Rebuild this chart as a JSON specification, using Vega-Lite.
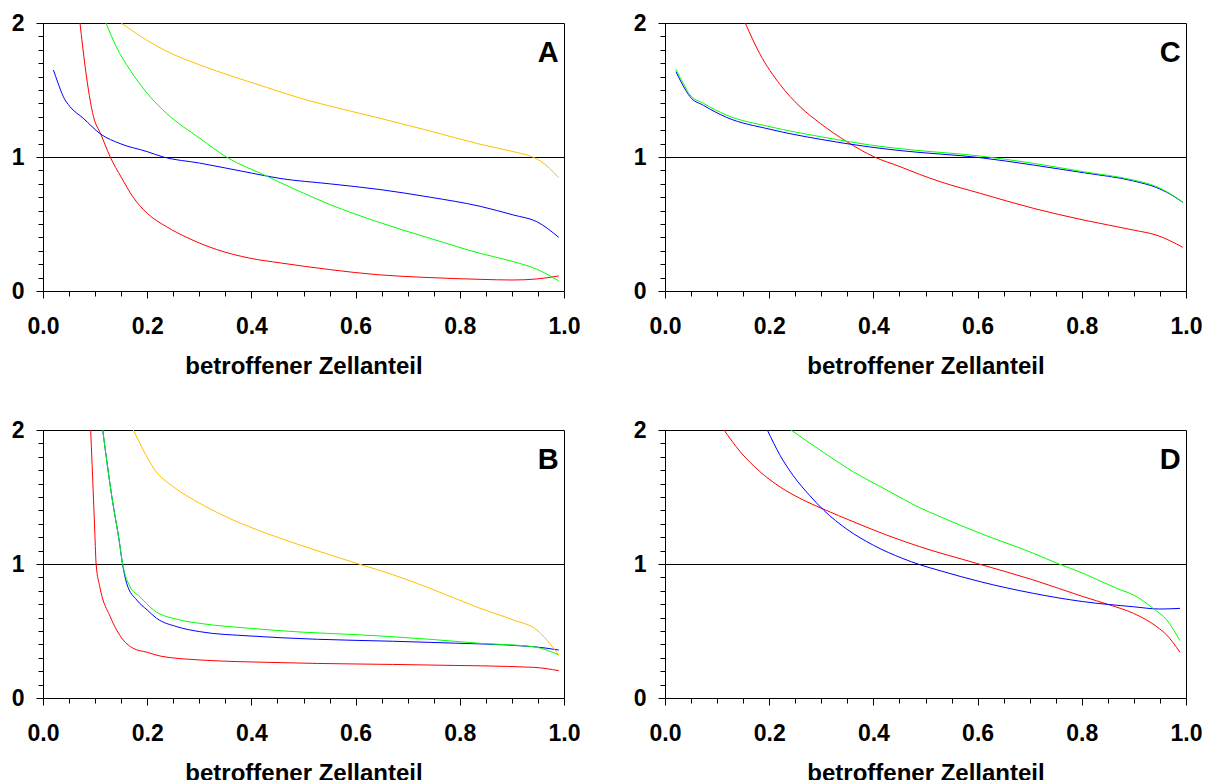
{
  "$schema": "https://vega.github.io/schema/vega-lite/v6.json",
  "background": "white",
  "padding": {"left": 10, "top": 11, "right": 5, "bottom": 5},
  "columns": 2,
  "spacing": {"row": 139, "column": 101},
  "bounds": "flush",
  "config": {
    "view": {"stroke": "black", "strokeWidth": 1},
    "axis": {
      "grid": false,
      "domainColor": "black",
      "domainWidth": 1,
      "tickColor": "black",
      "tickWidth": 1,
      "labelFont": "Liberation Sans",
      "labelFontWeight": "bold",
      "labelFontSize": 23,
      "labelColor": "black",
      "labelOverlap": false,
      "labelFlush": false,
      "titleFont": "Liberation Sans",
      "titleFontWeight": "bold",
      "titleFontSize": 24,
      "titleColor": "black"
    }
  },
  "datasets": {
    "curves": [
      {"p":"A","s":"rot","x":0.071,"y":2.0},{"p":"A","s":"rot","x":0.081,"y":1.67},{"p":"A","s":"rot","x":0.097,"y":1.30},{"p":"A","s":"rot","x":0.111,"y":1.17},{"p":"A","s":"rot","x":0.129,"y":1.0},{"p":"A","s":"rot","x":0.15,"y":0.85},{"p":"A","s":"rot","x":0.173,"y":0.70},{"p":"A","s":"rot","x":0.2,"y":0.58},{"p":"A","s":"rot","x":0.237,"y":0.48},{"p":"A","s":"rot","x":0.276,"y":0.40},{"p":"A","s":"rot","x":0.333,"y":0.31},{"p":"A","s":"rot","x":0.397,"y":0.245},{"p":"A","s":"rot","x":0.455,"y":0.21},{"p":"A","s":"rot","x":0.55,"y":0.16},{"p":"A","s":"rot","x":0.647,"y":0.12},{"p":"A","s":"rot","x":0.743,"y":0.10},{"p":"A","s":"rot","x":0.839,"y":0.087},{"p":"A","s":"rot","x":0.902,"y":0.082},{"p":"A","s":"rot","x":0.948,"y":0.09},{"p":"A","s":"rot","x":0.99,"y":0.112},
      {"p":"A","s":"blau","x":0.02,"y":1.65},{"p":"A","s":"blau","x":0.029,"y":1.55},{"p":"A","s":"blau","x":0.039,"y":1.45},{"p":"A","s":"blau","x":0.052,"y":1.375},{"p":"A","s":"blau","x":0.077,"y":1.29},{"p":"A","s":"blau","x":0.111,"y":1.17},{"p":"A","s":"blau","x":0.148,"y":1.10},{"p":"A","s":"blau","x":0.2,"y":1.04},{"p":"A","s":"blau","x":0.231,"y":1.0},{"p":"A","s":"blau","x":0.30,"y":0.955},{"p":"A","s":"blau","x":0.4,"y":0.88},{"p":"A","s":"blau","x":0.455,"y":0.84},{"p":"A","s":"blau","x":0.55,"y":0.80},{"p":"A","s":"blau","x":0.647,"y":0.757},{"p":"A","s":"blau","x":0.743,"y":0.70},{"p":"A","s":"blau","x":0.839,"y":0.632},{"p":"A","s":"blau","x":0.903,"y":0.567},{"p":"A","s":"blau","x":0.948,"y":0.517},{"p":"A","s":"blau","x":0.99,"y":0.40},
      {"p":"A","s":"grün","x":0.121,"y":2.0},{"p":"A","s":"grün","x":0.141,"y":1.82},{"p":"A","s":"grün","x":0.167,"y":1.65},{"p":"A","s":"grün","x":0.2,"y":1.475},{"p":"A","s":"grün","x":0.237,"y":1.326},{"p":"A","s":"grün","x":0.301,"y":1.139},{"p":"A","s":"grün","x":0.352,"y":1.0},{"p":"A","s":"grün","x":0.429,"y":0.858},{"p":"A","s":"grün","x":0.455,"y":0.81},{"p":"A","s":"grün","x":0.5,"y":0.73},{"p":"A","s":"grün","x":0.551,"y":0.645},{"p":"A","s":"grün","x":0.647,"y":0.51},{"p":"A","s":"grün","x":0.743,"y":0.393},{"p":"A","s":"grün","x":0.839,"y":0.281},{"p":"A","s":"grün","x":0.903,"y":0.219},{"p":"A","s":"grün","x":0.948,"y":0.162},{"p":"A","s":"grün","x":0.99,"y":0.075},
      {"p":"A","s":"gelb","x":0.15,"y":2.0},{"p":"A","s":"gelb","x":0.2,"y":1.87},{"p":"A","s":"gelb","x":0.237,"y":1.79},{"p":"A","s":"gelb","x":0.301,"y":1.687},{"p":"A","s":"gelb","x":0.365,"y":1.60},{"p":"A","s":"gelb","x":0.429,"y":1.52},{"p":"A","s":"gelb","x":0.493,"y":1.44},{"p":"A","s":"gelb","x":0.551,"y":1.38},{"p":"A","s":"gelb","x":0.647,"y":1.289},{"p":"A","s":"gelb","x":0.743,"y":1.194},{"p":"A","s":"gelb","x":0.839,"y":1.095},{"p":"A","s":"gelb","x":0.903,"y":1.04},{"p":"A","s":"gelb","x":0.941,"y":0.998},{"p":"A","s":"gelb","x":0.954,"y":0.972},{"p":"A","s":"gelb","x":0.99,"y":0.846},

      {"p":"C","s":"rot","x":0.154,"y":2.0},{"p":"C","s":"rot","x":0.182,"y":1.77},{"p":"C","s":"rot","x":0.221,"y":1.54},{"p":"C","s":"rot","x":0.259,"y":1.376},{"p":"C","s":"rot","x":0.298,"y":1.251},{"p":"C","s":"rot","x":0.349,"y":1.114},{"p":"C","s":"rot","x":0.402,"y":1.0},{"p":"C","s":"rot","x":0.451,"y":0.928},{"p":"C","s":"rot","x":0.489,"y":0.87},{"p":"C","s":"rot","x":0.528,"y":0.816},{"p":"C","s":"rot","x":0.605,"y":0.729},{"p":"C","s":"rot","x":0.707,"y":0.617},{"p":"C","s":"rot","x":0.803,"y":0.53},{"p":"C","s":"rot","x":0.899,"y":0.455},{"p":"C","s":"rot","x":0.944,"y":0.416},{"p":"C","s":"rot","x":0.994,"y":0.326},
      {"p":"C","s":"blau","x":0.021,"y":1.637},{"p":"C","s":"blau","x":0.035,"y":1.53},{"p":"C","s":"blau","x":0.048,"y":1.45},{"p":"C","s":"blau","x":0.074,"y":1.385},{"p":"C","s":"blau","x":0.118,"y":1.296},{"p":"C","s":"blau","x":0.2015,"y":1.207},{"p":"C","s":"blau","x":0.298,"y":1.132},{"p":"C","s":"blau","x":0.393,"y":1.075},{"p":"C","s":"blau","x":0.451,"y":1.048},{"p":"C","s":"blau","x":0.605,"y":0.995},{"p":"C","s":"blau","x":0.707,"y":0.94},{"p":"C","s":"blau","x":0.803,"y":0.883},{"p":"C","s":"blau","x":0.899,"y":0.821},{"p":"C","s":"blau","x":0.944,"y":0.771},{"p":"C","s":"blau","x":0.963,"y":0.737},{"p":"C","s":"blau","x":0.994,"y":0.662},
      {"p":"C","s":"grün","x":0.021,"y":1.654},{"p":"C","s":"grün","x":0.035,"y":1.55},{"p":"C","s":"grün","x":0.048,"y":1.463},{"p":"C","s":"grün","x":0.074,"y":1.40},{"p":"C","s":"grün","x":0.118,"y":1.313},{"p":"C","s":"grün","x":0.2015,"y":1.226},{"p":"C","s":"grün","x":0.298,"y":1.152},{"p":"C","s":"grün","x":0.393,"y":1.09},{"p":"C","s":"grün","x":0.451,"y":1.062},{"p":"C","s":"grün","x":0.605,"y":1.007},{"p":"C","s":"grün","x":0.707,"y":0.953},{"p":"C","s":"grün","x":0.803,"y":0.89},{"p":"C","s":"grün","x":0.899,"y":0.828},{"p":"C","s":"grün","x":0.944,"y":0.778},{"p":"C","s":"grün","x":0.963,"y":0.741},{"p":"C","s":"grün","x":0.994,"y":0.662},

      {"p":"B","s":"rot","x":0.0915,"y":2.0},{"p":"B","s":"rot","x":0.097,"y":1.478},{"p":"B","s":"rot","x":0.0995,"y":1.229},{"p":"B","s":"rot","x":0.102,"y":0.997},{"p":"B","s":"rot","x":0.109,"y":0.831},{"p":"B","s":"rot","x":0.129,"y":0.607},{"p":"B","s":"rot","x":0.154,"y":0.433},{"p":"B","s":"rot","x":0.173,"y":0.371},{"p":"B","s":"rot","x":0.2,"y":0.341},{"p":"B","s":"rot","x":0.225,"y":0.313},{"p":"B","s":"rot","x":0.301,"y":0.284},{"p":"B","s":"rot","x":0.455,"y":0.264},{"p":"B","s":"rot","x":0.743,"y":0.246},{"p":"B","s":"rot","x":0.941,"y":0.229},{"p":"B","s":"rot","x":0.99,"y":0.204},
      {"p":"B","s":"blau","x":0.1146,"y":2.0},{"p":"B","s":"blau","x":0.133,"y":1.48},{"p":"B","s":"blau","x":0.146,"y":1.18},{"p":"B","s":"blau","x":0.153,"y":0.99},{"p":"B","s":"blau","x":0.1606,"y":0.856},{"p":"B","s":"blau","x":0.18,"y":0.731},{"p":"B","s":"blau","x":0.2,"y":0.657},{"p":"B","s":"blau","x":0.218,"y":0.595},{"p":"B","s":"blau","x":0.257,"y":0.532},{"p":"B","s":"blau","x":0.301,"y":0.495},{"p":"B","s":"blau","x":0.397,"y":0.463},{"p":"B","s":"blau","x":0.455,"y":0.45},{"p":"B","s":"blau","x":0.743,"y":0.415},{"p":"B","s":"blau","x":0.941,"y":0.383},{"p":"B","s":"blau","x":0.99,"y":0.358},
      {"p":"B","s":"grün","x":0.1146,"y":2.0},{"p":"B","s":"grün","x":0.133,"y":1.48},{"p":"B","s":"grün","x":0.146,"y":1.18},{"p":"B","s":"grün","x":0.153,"y":1.0},{"p":"B","s":"grün","x":0.167,"y":0.831},{"p":"B","s":"grün","x":0.186,"y":0.756},{"p":"B","s":"grün","x":0.212,"y":0.657},{"p":"B","s":"grün","x":0.263,"y":0.582},{"p":"B","s":"grün","x":0.301,"y":0.557},{"p":"B","s":"grün","x":0.397,"y":0.52},{"p":"B","s":"grün","x":0.455,"y":0.502},{"p":"B","s":"grün","x":0.647,"y":0.463},{"p":"B","s":"grün","x":0.743,"y":0.438},{"p":"B","s":"grün","x":0.839,"y":0.408},{"p":"B","s":"grün","x":0.941,"y":0.383},{"p":"B","s":"grün","x":0.99,"y":0.321},
      {"p":"B","s":"gelb","x":0.1733,"y":2.0},{"p":"B","s":"gelb","x":0.1925,"y":1.851},{"p":"B","s":"gelb","x":0.215,"y":1.70},{"p":"B","s":"gelb","x":0.25,"y":1.577},{"p":"B","s":"gelb","x":0.301,"y":1.453},{"p":"B","s":"gelb","x":0.365,"y":1.328},{"p":"B","s":"gelb","x":0.429,"y":1.229},{"p":"B","s":"gelb","x":0.493,"y":1.142},{"p":"B","s":"gelb","x":0.551,"y":1.068},{"p":"B","s":"gelb","x":0.6085,"y":0.997},{"p":"B","s":"gelb","x":0.647,"y":0.952},{"p":"B","s":"gelb","x":0.743,"y":0.818},{"p":"B","s":"gelb","x":0.839,"y":0.669},{"p":"B","s":"gelb","x":0.903,"y":0.582},{"p":"B","s":"gelb","x":0.948,"y":0.507},{"p":"B","s":"gelb","x":0.967,"y":0.433},{"p":"B","s":"gelb","x":0.99,"y":0.321},

      {"p":"D","s":"rot","x":0.1132,"y":2.0},{"p":"D","s":"rot","x":0.144,"y":1.84},{"p":"D","s":"rot","x":0.182,"y":1.69},{"p":"D","s":"rot","x":0.221,"y":1.575},{"p":"D","s":"rot","x":0.259,"y":1.49},{"p":"D","s":"rot","x":0.305,"y":1.408},{"p":"D","s":"rot","x":0.361,"y":1.316},{"p":"D","s":"rot","x":0.4255,"y":1.216},{"p":"D","s":"rot","x":0.489,"y":1.129},{"p":"D","s":"rot","x":0.598,"y":1.005},{"p":"D","s":"rot","x":0.707,"y":0.881},{"p":"D","s":"rot","x":0.803,"y":0.756},{"p":"D","s":"rot","x":0.854,"y":0.694},{"p":"D","s":"rot","x":0.899,"y":0.632},{"p":"D","s":"rot","x":0.944,"y":0.532},{"p":"D","s":"rot","x":0.963,"y":0.47},{"p":"D","s":"rot","x":0.9885,"y":0.341},
      {"p":"D","s":"blau","x":0.1964,"y":2.0},{"p":"D","s":"blau","x":0.221,"y":1.81},{"p":"D","s":"blau","x":0.246,"y":1.66},{"p":"D","s":"blau","x":0.278,"y":1.51},{"p":"D","s":"blau","x":0.305,"y":1.40},{"p":"D","s":"blau","x":0.349,"y":1.26},{"p":"D","s":"blau","x":0.40,"y":1.14},{"p":"D","s":"blau","x":0.457,"y":1.04},{"p":"D","s":"blau","x":0.489,"y":0.995},{"p":"D","s":"blau","x":0.528,"y":0.95},{"p":"D","s":"blau","x":0.605,"y":0.868},{"p":"D","s":"blau","x":0.707,"y":0.781},{"p":"D","s":"blau","x":0.803,"y":0.719},{"p":"D","s":"blau","x":0.899,"y":0.681},{"p":"D","s":"blau","x":0.95,"y":0.664},{"p":"D","s":"blau","x":0.9885,"y":0.669},
      {"p":"D","s":"grün","x":0.2418,"y":2.0},{"p":"D","s":"grün","x":0.2975,"y":1.851},{"p":"D","s":"grün","x":0.361,"y":1.689},{"p":"D","s":"grün","x":0.4255,"y":1.552},{"p":"D","s":"grün","x":0.489,"y":1.42},{"p":"D","s":"grün","x":0.528,"y":1.353},{"p":"D","s":"grün","x":0.605,"y":1.229},{"p":"D","s":"grün","x":0.707,"y":1.08},{"p":"D","s":"grün","x":0.753,"y":1.005},{"p":"D","s":"grün","x":0.803,"y":0.93},{"p":"D","s":"grün","x":0.867,"y":0.818},{"p":"D","s":"grün","x":0.899,"y":0.769},{"p":"D","s":"grün","x":0.937,"y":0.669},{"p":"D","s":"grün","x":0.963,"y":0.582},{"p":"D","s":"grün","x":0.9885,"y":0.428}
    ]
  },
  "concat": [
    {
      "width": 521, "height": 268,
      "layer": [
        {"data": {"values": [{}]}, "mark": {"type": "rule", "color": "black", "strokeWidth": 1, "yOffset": 0.5}, "encoding": {"y": {"datum": 1, "type": "quantitative"}}},
        {"data": {"name": "curves"}, "transform": [{"filter": "datum.p === 'A'"}],
         "mark": {"type": "line", "clip": true, "strokeWidth": 1, "interpolate": "monotone"},
         "encoding": {
           "x": {"field": "x", "type": "quantitative", "scale": {"domain": [0, 1], "nice": false},
                 "axis": {"title": "betroffener Zellanteil", "tickCount": 40, "values": [0,0.05,0.1,0.15,0.2,0.25,0.3,0.35,0.4,0.45,0.5,0.55,0.6,0.65,0.7,0.75,0.8,0.85,0.9,0.95,1],
                          "labelExpr": "round(datum.value*20) % 4 === 0 ? format(datum.value, '.1f') : ''",
                          "tickSize": {"condition": {"test": "round(datum.value*20) % 4 === 0", "value": 7}, "value": 5},
                          "labelOverlap": false, "labelPadding": 17, "titlePadding": 16}},
           "y": {"field": "y", "type": "quantitative", "scale": {"domain": [0, 2], "nice": false},
                 "axis": {"title": null, "tickCount": 40, "values": [0,0.1,0.2,0.3,0.4,0.5,0.6,0.7,0.8,0.9,1,1.1,1.2,1.3,1.4,1.5,1.6,1.7,1.8,1.9,2],
                          "labelExpr": "datum.value % 1 === 0 ? format(datum.value, 'd') : ''",
                          "tickSize": {"condition": {"test": "datum.value % 1 === 0", "value": 7}, "value": 5},
                          "labelOverlap": false, "labelPadding": 12}},
           "color": {"field": "s", "type": "nominal", "legend": null, "scale": {"domain": ["rot","blau","grün","gelb"], "range": ["#FF0000","#0000FF","#00FF00","#FFC000"]}},
           "detail": {"field": "s"}
         }},
        {"data": {"values": [{"label": "A"}]}, "mark": {"type": "text", "font": "Liberation Sans", "fontWeight": "bold", "fontSize": 29, "align": "right", "baseline": "alphabetic", "color": "black"},
         "encoding": {"x": {"datum": 0.99, "type": "quantitative"}, "y": {"datum": 1.71, "type": "quantitative"}, "text": {"field": "label"}}}
      ]
    },
    {
      "width": 521, "height": 268,
      "layer": [
        {"data": {"values": [{}]}, "mark": {"type": "rule", "color": "black", "strokeWidth": 1, "yOffset": 0.5}, "encoding": {"y": {"datum": 1, "type": "quantitative"}}},
        {"data": {"name": "curves"}, "transform": [{"filter": "datum.p === 'C'"}],
         "mark": {"type": "line", "clip": true, "strokeWidth": 1, "interpolate": "monotone"},
         "encoding": {
           "x": {"field": "x", "type": "quantitative", "scale": {"domain": [0, 1], "nice": false},
                 "axis": {"title": "betroffener Zellanteil", "tickCount": 40, "values": [0,0.05,0.1,0.15,0.2,0.25,0.3,0.35,0.4,0.45,0.5,0.55,0.6,0.65,0.7,0.75,0.8,0.85,0.9,0.95,1],
                          "labelExpr": "round(datum.value*20) % 4 === 0 ? format(datum.value, '.1f') : ''",
                          "tickSize": {"condition": {"test": "round(datum.value*20) % 4 === 0", "value": 7}, "value": 5},
                          "labelOverlap": false, "labelPadding": 17, "titlePadding": 16}},
           "y": {"field": "y", "type": "quantitative", "scale": {"domain": [0, 2], "nice": false},
                 "axis": {"title": null, "tickCount": 40, "values": [0,0.1,0.2,0.3,0.4,0.5,0.6,0.7,0.8,0.9,1,1.1,1.2,1.3,1.4,1.5,1.6,1.7,1.8,1.9,2],
                          "labelExpr": "datum.value % 1 === 0 ? format(datum.value, 'd') : ''",
                          "tickSize": {"condition": {"test": "datum.value % 1 === 0", "value": 7}, "value": 5},
                          "labelOverlap": false, "labelPadding": 12}},
           "color": {"field": "s", "type": "nominal", "legend": null, "scale": {"domain": ["rot","blau","grün","gelb"], "range": ["#FF0000","#0000FF","#00FF00","#FFC000"]}},
           "detail": {"field": "s"}
         }},
        {"data": {"values": [{"label": "C"}]}, "mark": {"type": "text", "font": "Liberation Sans", "fontWeight": "bold", "fontSize": 29, "align": "right", "baseline": "alphabetic", "color": "black"},
         "encoding": {"x": {"datum": 0.99, "type": "quantitative"}, "y": {"datum": 1.71, "type": "quantitative"}, "text": {"field": "label"}}}
      ]
    },
    {
      "width": 521, "height": 268,
      "layer": [
        {"data": {"values": [{}]}, "mark": {"type": "rule", "color": "black", "strokeWidth": 1, "yOffset": 0.5}, "encoding": {"y": {"datum": 1, "type": "quantitative"}}},
        {"data": {"name": "curves"}, "transform": [{"filter": "datum.p === 'B'"}],
         "mark": {"type": "line", "clip": true, "strokeWidth": 1, "interpolate": "monotone"},
         "encoding": {
           "x": {"field": "x", "type": "quantitative", "scale": {"domain": [0, 1], "nice": false},
                 "axis": {"title": "betroffener Zellanteil", "tickCount": 40, "values": [0,0.05,0.1,0.15,0.2,0.25,0.3,0.35,0.4,0.45,0.5,0.55,0.6,0.65,0.7,0.75,0.8,0.85,0.9,0.95,1],
                          "labelExpr": "round(datum.value*20) % 4 === 0 ? format(datum.value, '.1f') : ''",
                          "tickSize": {"condition": {"test": "round(datum.value*20) % 4 === 0", "value": 7}, "value": 5},
                          "labelOverlap": false, "labelPadding": 17, "titlePadding": 16}},
           "y": {"field": "y", "type": "quantitative", "scale": {"domain": [0, 2], "nice": false},
                 "axis": {"title": null, "tickCount": 40, "values": [0,0.1,0.2,0.3,0.4,0.5,0.6,0.7,0.8,0.9,1,1.1,1.2,1.3,1.4,1.5,1.6,1.7,1.8,1.9,2],
                          "labelExpr": "datum.value % 1 === 0 ? format(datum.value, 'd') : ''",
                          "tickSize": {"condition": {"test": "datum.value % 1 === 0", "value": 7}, "value": 5},
                          "labelOverlap": false, "labelPadding": 12}},
           "color": {"field": "s", "type": "nominal", "legend": null, "scale": {"domain": ["rot","blau","grün","gelb"], "range": ["#FF0000","#0000FF","#00FF00","#FFC000"]}},
           "detail": {"field": "s"}
         }},
        {"data": {"values": [{"label": "B"}]}, "mark": {"type": "text", "font": "Liberation Sans", "fontWeight": "bold", "fontSize": 29, "align": "right", "baseline": "alphabetic", "color": "black"},
         "encoding": {"x": {"datum": 0.99, "type": "quantitative"}, "y": {"datum": 1.71, "type": "quantitative"}, "text": {"field": "label"}}}
      ]
    },
    {
      "width": 521, "height": 268,
      "layer": [
        {"data": {"values": [{}]}, "mark": {"type": "rule", "color": "black", "strokeWidth": 1, "yOffset": 0.5}, "encoding": {"y": {"datum": 1, "type": "quantitative"}}},
        {"data": {"name": "curves"}, "transform": [{"filter": "datum.p === 'D'"}],
         "mark": {"type": "line", "clip": true, "strokeWidth": 1, "interpolate": "monotone"},
         "encoding": {
           "x": {"field": "x", "type": "quantitative", "scale": {"domain": [0, 1], "nice": false},
                 "axis": {"title": "betroffener Zellanteil", "tickCount": 40, "values": [0,0.05,0.1,0.15,0.2,0.25,0.3,0.35,0.4,0.45,0.5,0.55,0.6,0.65,0.7,0.75,0.8,0.85,0.9,0.95,1],
                          "labelExpr": "round(datum.value*20) % 4 === 0 ? format(datum.value, '.1f') : ''",
                          "tickSize": {"condition": {"test": "round(datum.value*20) % 4 === 0", "value": 7}, "value": 5},
                          "labelOverlap": false, "labelPadding": 17, "titlePadding": 16}},
           "y": {"field": "y", "type": "quantitative", "scale": {"domain": [0, 2], "nice": false},
                 "axis": {"title": null, "tickCount": 40, "values": [0,0.1,0.2,0.3,0.4,0.5,0.6,0.7,0.8,0.9,1,1.1,1.2,1.3,1.4,1.5,1.6,1.7,1.8,1.9,2],
                          "labelExpr": "datum.value % 1 === 0 ? format(datum.value, 'd') : ''",
                          "tickSize": {"condition": {"test": "datum.value % 1 === 0", "value": 7}, "value": 5},
                          "labelOverlap": false, "labelPadding": 12}},
           "color": {"field": "s", "type": "nominal", "legend": null, "scale": {"domain": ["rot","blau","grün","gelb"], "range": ["#FF0000","#0000FF","#00FF00","#FFC000"]}},
           "detail": {"field": "s"}
         }},
        {"data": {"values": [{"label": "D"}]}, "mark": {"type": "text", "font": "Liberation Sans", "fontWeight": "bold", "fontSize": 29, "align": "right", "baseline": "alphabetic", "color": "black"},
         "encoding": {"x": {"datum": 0.99, "type": "quantitative"}, "y": {"datum": 1.71, "type": "quantitative"}, "text": {"field": "label"}}}
      ]
    }
  ]
}
